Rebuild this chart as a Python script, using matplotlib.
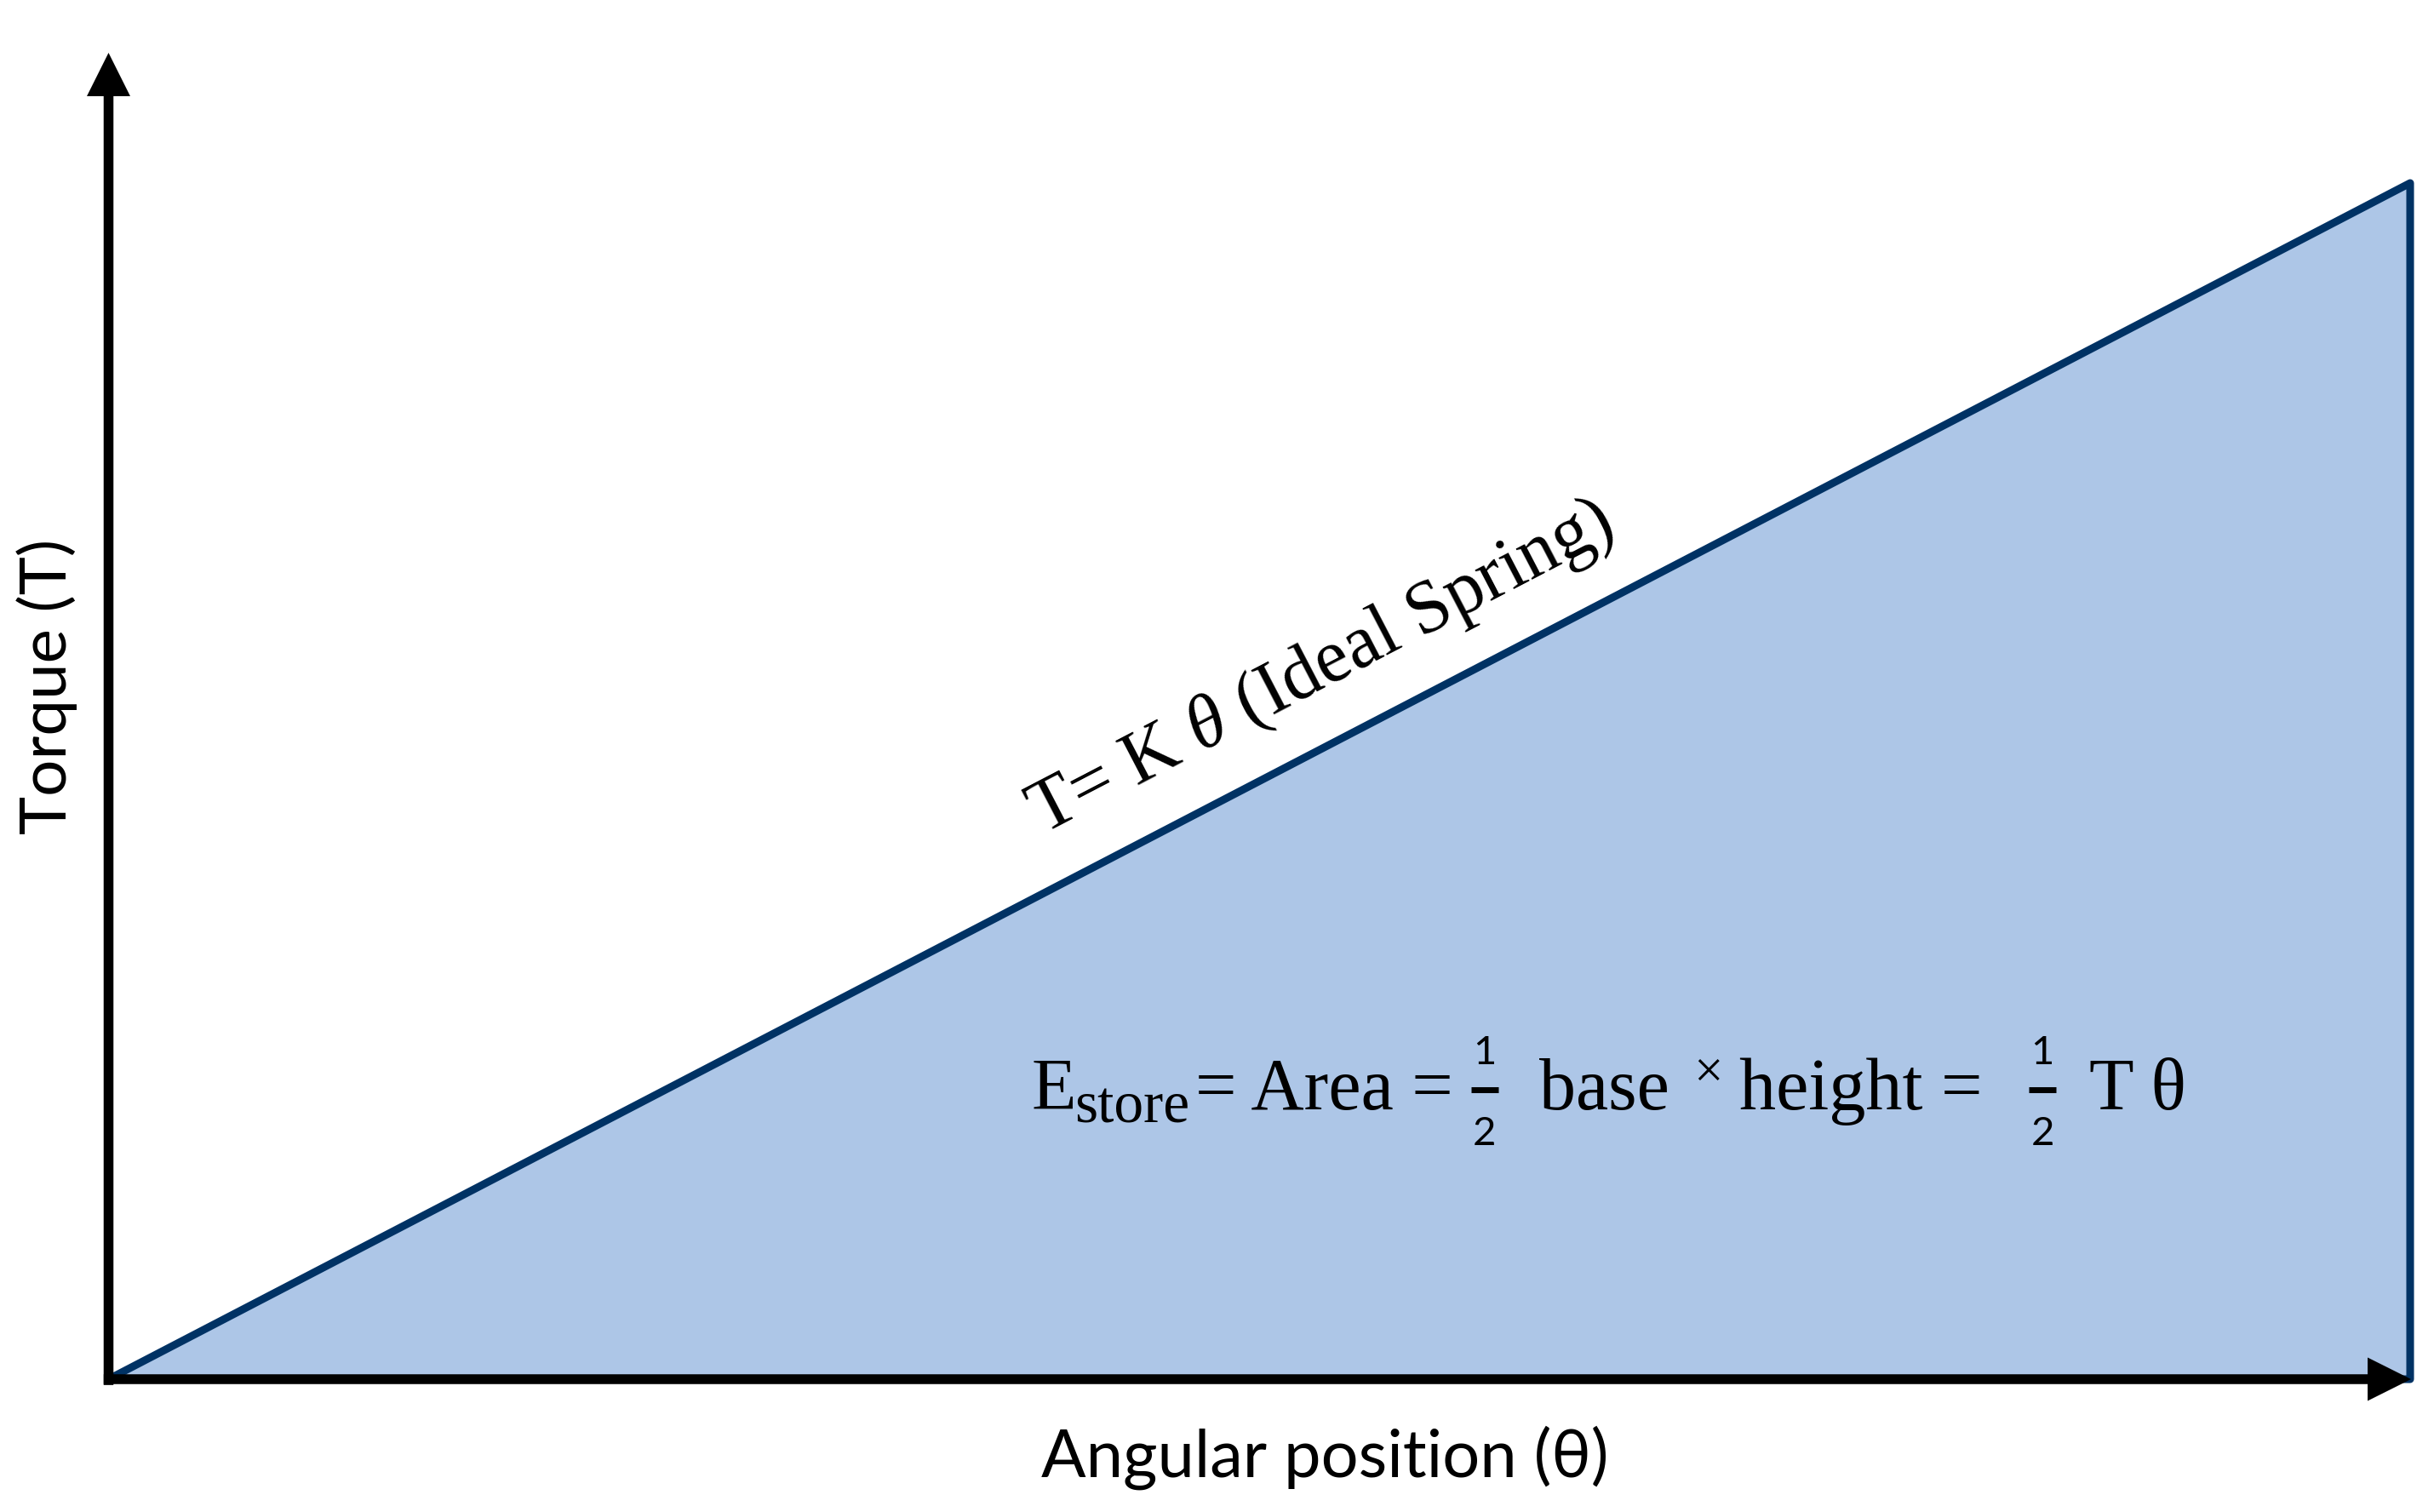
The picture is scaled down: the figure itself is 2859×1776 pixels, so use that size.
import matplotlib
matplotlib.use("Agg")
import matplotlib.pyplot as plt
from matplotlib.lines import Line2D

# spring: T = K * theta, normalised
theta = [0.0, 1.0]
torque = [0.0, 1.0]

line_label = r"T= K $\mathit{\theta}$ (Ideal Spring)"
x_label = "Angular position (θ)"
y_label = "Torque (T)"
# pieces of the stored-energy formula
e_parts = ["E", "store", "= Area =", "base", "×", "height =", "T θ"]
half = ("1", "2")

fill_col = "#adc6e7"
edge_col = "#003264"

plt.rcParams["mathtext.fontset"] = "custom"
plt.rcParams["mathtext.rm"] = "Liberation Serif"
plt.rcParams["mathtext.it"] = "Liberation Serif:italic"
plt.rcParams["mathtext.bf"] = "Liberation Serif:bold"

W, H = 2859, 1776
fig = plt.figure(figsize=(W / 100, H / 100), dpi=100)
ax = fig.add_axes([127.5 / W, 1 - 1620 / H, (2832 - 127.5) / W, (1620 - 62) / H])
ax.set_xlim(0, (2832 - 127.5) / (2831 - 127.5))
ax.set_ylim(0, (1620 - 62) / (1620 - 215))
ax.axis("off")

# triangle under the line
xs = [theta[0], theta[-1], theta[-1]]
ys = [torque[0], torque[-1], torque[0]]
ax.fill(xs, ys, facecolor=fill_col, edgecolor=edge_col, lw=6.5,
        joinstyle="round", clip_on=False, zorder=1)

# axes with arrow heads
arrow = dict(width=8.3, headwidth=36.7, headlength=36.7, shrink=0,
             facecolor="black", edgecolor="none")
ax.annotate("", xy=(1, 0), xytext=(-0.0021, 0), xycoords="axes fraction",
            arrowprops=arrow, annotation_clip=False, zorder=3)
ax.annotate("", xy=(0, 1), xytext=(0, -0.0044), xycoords="axes fraction",
            arrowprops=arrow, annotation_clip=False, zorder=3)

serif = ["Liberation Serif", "DejaVu Serif"]
sans = ["Lato", "DejaVu Sans"]


def fx(px):
    return px / W


def fy(py):
    return 1 - py / H


fig.text(fx(1552), fy(786), line_label, rotation=27.5, rotation_mode="anchor",
         ha="center", va="center", fontsize=63, family=serif)

# E_store = Area = 1/2 base x height = 1/2 T theta
base_y = 1303
fig.text(fx(1212), fy(base_y), e_parts[0], ha="left", va="baseline", fontsize=62, family=serif)
fig.text(fx(1262), fy(base_y + 15), e_parts[1], ha="left", va="baseline", fontsize=50, family=serif)
fig.text(fx(1404), fy(base_y), e_parts[2], ha="left", va="baseline", fontsize=62, family=serif)
fig.text(fx(1808), fy(base_y), e_parts[3], ha="left", va="baseline", fontsize=62, family=serif)
fig.text(fx(2006), fy(1278), e_parts[4], ha="center", va="baseline", fontsize=44, family=serif)
fig.text(fx(2043), fy(base_y), e_parts[5], ha="left", va="baseline", fontsize=62, family=serif)
fig.text(fx(2454), fy(base_y), e_parts[6], ha="left", va="baseline", fontsize=62, family=serif)

for cx in (1744, 2399):
    fig.text(fx(cx), fy(1250), half[0], ha="center", va="baseline", fontsize=34, family=sans)
    fig.text(fx(cx), fy(1345), half[1], ha="center", va="baseline", fontsize=34, family=sans)
    fig.add_artist(Line2D([fx(cx - 16), fx(cx + 16)], [fy(1280), fy(1280)],
                          lw=5, color="black", solid_capstyle="butt"))

fig.text(fx(1556), fy(1712), x_label, ha="center", va="center",
         fontsize=56, family=sans)
fig.text(fx(55), fy(806), y_label, rotation=90, ha="center", va="center",
         fontsize=55, family=sans)

fig.savefig("out.png", dpi=100, facecolor="white")
